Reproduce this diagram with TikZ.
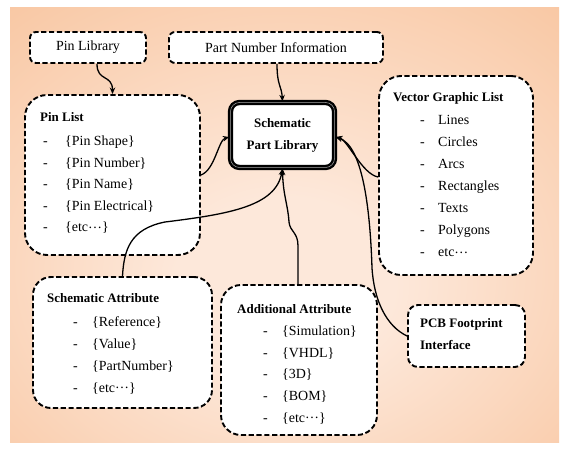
\documentclass[tikz,border=0pt]{standalone}
\usepackage{fontspec}
\setmainfont{Liberation Serif}
\usetikzlibrary{arrows.meta}

\definecolor{bgin}{HTML}{FDE8DA}
\definecolor{bgmid}{HTML}{F7BD92}
\definecolor{bgout}{HTML}{F3A56E}
\pgfdeclareradialshading{bgglow}{\pgfpoint{0bp}{-8bp}}{%
  color(0bp)=(bgin); color(10bp)=(bgin); color(48bp)=(bgmid); color(71bp)=(bgout)}

% dash of a list item, then the item text
\newcommand{\litem}[2]{\makebox[#1][l]{-}#2}
\newcommand{\etcdots}{\raisebox{0.28em}{…}}

\begin{document}
\begin{tikzpicture}[x=1bp,y=-1bp,
  dbox/.style={draw=black, fill=white, line width=1.9bp,
    dash pattern=on 5.2bp off 2.6bp, inner sep=0pt},
  hub/.style={draw=black, fill=white, line width=2.4bp, double=black!35,
    double distance=0.5bp, rounded corners=9bp, inner sep=0pt,
    minimum width=104bp, minimum height=65bp, align=center,
    font=\fontsize{13}{22}\selectfont\bfseries},
  plain/.style={font=\fontsize{14}{16}\selectfont},
  txt/.style={anchor=base west, inner sep=0pt, font=\fontsize{14}{16}\selectfont},
  ttl/.style={anchor=base west, inner sep=0pt, font=\fontsize{13}{16}\selectfont\bfseries},
  link/.style={draw=black, line width=1.3bp,
    -{Stealth[length=6.5bp,width=5.5bp]}},
]
\useasboundingbox (0,0) rectangle (566,450);
\fill[white] (0,0) rectangle (566,450);
\shade[shading=bgglow] (10,8) rectangle (559,442);

% boxes
\node[dbox, rounded corners=6bp, minimum width=116bp, minimum height=31bp, plain]
  (pinlib) at (88,47.5) {Pin Library};
\node[dbox, rounded corners=6bp, minimum width=214bp, minimum height=31bp, plain]
  (partnum) at (276,47.5) {Part Number Information};
\node[dbox, rounded corners=22bp, minimum width=175bp, minimum height=160bp]
  (pinlist) at (112.5,175) {};
\node[dbox, rounded corners=22bp, minimum width=154bp, minimum height=199bp]
  (vgl) at (456,175.5) {};
\node[dbox, rounded corners=18bp, minimum width=179bp, minimum height=131bp]
  (schattr) at (122.5,342.5) {};
\node[dbox, rounded corners=20bp, minimum width=156bp, minimum height=150bp]
  (addattr) at (299,360) {};
\node[dbox, rounded corners=10bp, minimum width=117bp, minimum height=62bp]
  (pcb) at (466.5,336) {};
\node[hub] (spl) at (282.5,135) {Schematic\\Part Library};

% Pin List contents
\node[ttl] (pl0) at (40,122) {Pin List};
\node[txt] (pl1) at (43,146)   {\litem{22bp}{\{Pin Shape\}}};
\node[txt] (pl2) at (43,167.5) {\litem{22bp}{\{Pin Number\}}};
\node[txt] (pl3) at (43,189)   {\litem{22bp}{\{Pin Name\}}};
\node[txt] (pl4) at (43,210.5) {\litem{22bp}{\{Pin Electrical\}}};
\node[txt] (pl5) at (43,232)   {\litem{22bp}{\{etc\etcdots\}}};

% Vector Graphic List contents
\node[ttl] (vg0) at (393,102) {Vector Graphic List};
\node[txt] (vg1) at (420,125) {\litem{18bp}{Lines}};
\node[txt] (vg2) at (420,147) {\litem{18bp}{Circles}};
\node[txt] (vg3) at (420,169) {\litem{18bp}{Arcs}};
\node[txt] (vg4) at (420,191) {\litem{18bp}{Rectangles}};
\node[txt] (vg5) at (420,213) {\litem{18bp}{Texts}};
\node[txt] (vg6) at (420,235) {\litem{18bp}{Polygons}};
\node[txt] (vg7) at (420,257) {\litem{18bp}{etc\etcdots}};

% Schematic Attribute contents
\node[ttl] (sa0) at (47,302) {Schematic Attribute};
\node[txt] (sa1) at (73,326) {\litem{19bp}{\{Reference\}}};
\node[txt] (sa2) at (73,348) {\litem{19bp}{\{Value\}}};
\node[txt] (sa3) at (73,370) {\litem{19bp}{\{PartNumber\}}};
\node[txt] (sa4) at (73,392) {\litem{19bp}{\{etc\etcdots\}}};

% Additional Attribute contents
\node[ttl] (aa0) at (237,313) {Additional Attribute};
\node[txt] (aa1) at (263,335) {\litem{19bp}{\{Simulation\}}};
\node[txt] (aa2) at (263,357) {\litem{19bp}{\{VHDL\}}};
\node[txt] (aa3) at (263,378) {\litem{19bp}{\{3D\}}};
\node[txt] (aa4) at (263,400) {\litem{19bp}{\{BOM\}}};
\node[txt] (aa5) at (263,422) {\litem{19bp}{\{etc\etcdots\}}};

% PCB Footprint Interface contents
\node[ttl] (pcb1) at (420,327) {PCB Footprint};
\node[ttl] (pcb2) at (420,349) {Interface};

% connectors
\draw[link] ([xshift=9bp]pinlib.south) .. controls +(0,18) and +(0,-20) .. (pinlist.north);
\draw[link] ([xshift=1bp]partnum.south) .. controls +(0,22) and +(-1,-16) .. (spl.north);
\draw[link] (pinlist.east) .. controls +(14,-5) and +(-11,3) .. ([yshift=-2bp]spl.west);
\draw[link] ([yshift=-1.5bp]vgl.west) .. controls +(-16,-3) and +(12,3) .. ([yshift=-2bp]spl.east);
\draw[link] (pcb.west) .. controls (386,326) and (374,300) .. (372,268)
  .. controls (370,205) and (362,146) .. ([yshift=-2bp]spl.east);
\draw[link] ([xshift=-1bp]addattr.north) -- (298,246)
  .. controls (298,232) and (290,232) .. (289,222)
  .. controls (288,205) and (283,195) .. (spl.south);
\draw[link] (schattr.north) .. controls (124,250) and (130,229) .. (165,222)
  .. controls (230,214) and (276,206) .. (spl.south);
\end{tikzpicture}
\end{document}
